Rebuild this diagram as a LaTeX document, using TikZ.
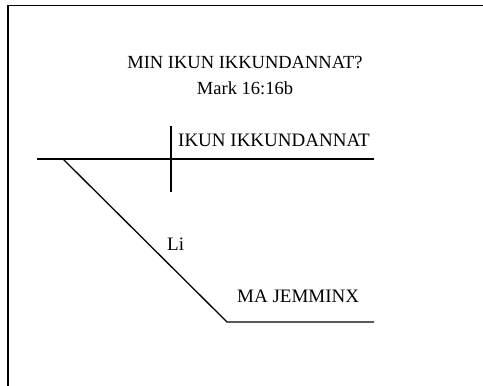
\documentclass[tikz,border=0pt]{standalone}
\usepackage{fontspec}
\setmainfont{Liberation Serif}
\begin{document}
\begin{tikzpicture}[x=1pt,y=1pt]
        \tikzset{rule/.style={draw,line width=1.3pt},
            frame/.style={draw,line width=1.4pt},
            word/.style={inner sep=0pt,anchor=base west,font=\fontsize{19}{26}\selectfont},
            heading/.style={inner sep=0pt,align=center,font=\fontsize{18.5}{26}\selectfont}}
        \useasboundingbox (0,0) rectangle (483,386);
        % page frame
        \draw[frame] (8,0) -- (8,380.5) -- (483,380.5);
        % heading
        \node[heading] (title) at (245,310) {MIN IKUN IKKUNDANNAT?\\Mark 16:16b};
        % main line
        \coordinate (main start) at (37,227);
        \coordinate (main end) at (374,227);
        \coordinate (divider top) at (171,260);
        \coordinate (divider bottom) at (171,194);
        \coordinate (slant top) at (63,227);
        \coordinate (slant bottom) at (227,64);
        \coordinate (mod end) at (374,64);
        \draw[rule] (main start) -- (main end);
        \draw[rule] (divider top) -- (divider bottom);
        \draw[rule] (slant top) -- (slant bottom) -- (mod end);
        \node[word] (subject) at (178,239) {IKUN IKKUNDANNAT};
        \node[word] (li) at (167,135) {Li};
        \node[word] (object) at (237,83) {MA JEMMINX};
    \end{tikzpicture}
\end{document}
